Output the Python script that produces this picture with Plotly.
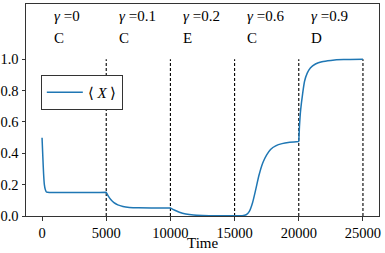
import plotly.graph_objects as go

time = [0, 60, 120, 180, 250, 330, 420, 600, 1000, 2000, 3000, 4000, 4999,
        5000, 5150, 5350, 5600, 5900, 6300, 6800, 7500, 8500, 9999,
        10000, 10300, 10700, 11200, 11800, 12500, 13500, 14999,
        15000, 15600, 15900, 16150, 16400, 16650, 16900, 17200, 17500, 17800, 18200, 18700, 19300, 19999,
        20000, 20060, 20150, 20300, 20450, 20650, 20900, 21300, 21800, 22500, 23500, 25000]
x_mean = [0.50, 0.38, 0.27, 0.20, 0.17, 0.155, 0.151, 0.150, 0.150, 0.150, 0.150, 0.150, 0.151,
          0.151, 0.128, 0.105, 0.085, 0.071, 0.061, 0.055, 0.052, 0.051, 0.051,
          0.051, 0.038, 0.024, 0.013, 0.006, 0.003, 0.001, 0.001,
          0.001, 0.002, 0.008, 0.030, 0.085, 0.17, 0.26, 0.34, 0.39, 0.425, 0.448, 0.462, 0.470, 0.476,
          0.476, 0.58, 0.68, 0.78, 0.86, 0.91, 0.945, 0.97, 0.985, 0.993, 0.998, 1.0]

boundaries = [5000, 10000, 15000, 20000, 25000]
seg_starts = [0, 5000, 10000, 15000, 20000]
gammas = ["0", "0.1", "0.2", "0.6", "0.9"]
phases = ["C", "C", "E", "C", "D"]
x_ticks = [0, 5000, 10000, 15000, 20000, 25000]
x_ticklabels = ["0", "5000", "10000", "15000", "20000", "25000"]
y_ticks = [0, 0.2, 0.4, 0.6, 0.8, 1.0]
y_ticklabels = ["0.0", "0.2", "0.4", "0.6", "0.8", "1.0"]

FONT = "Liberation Serif"

fig = go.Figure()
for b in boundaries:
    fig.add_trace(go.Scatter(x=[b, b], y=[0, 1], mode="lines",
                             line=dict(color="black", width=1.1, dash="3px,2px"),
                             showlegend=False, hoverinfo="skip"))
fig.add_trace(go.Scatter(x=time, y=x_mean, mode="lines", name="⟨ <i>X</i> ⟩",
                         line=dict(color="#1f77b4", width=1.5, shape="spline", smoothing=0.6)))

for s, g, p in zip(seg_starts, gammas, phases):
    fig.add_annotation(x=s + 800, y=1.279, text="<i>γ</i> =" + g, showarrow=False,
                       xanchor="left", yanchor="middle", font=dict(family=FONT, size=15, color="black"))
    fig.add_annotation(x=s + 800, y=1.135, text=p, showarrow=False,
                       xanchor="left", yanchor="middle", font=dict(family=FONT, size=15, color="black"))

fig.add_annotation(x=0.5, xref="paper", y=-0.127, yref="paper", text="Time", showarrow=False,
                   xanchor="center", yanchor="middle", font=dict(family=FONT, size=15, color="black"))

axis_common = dict(showline=True, linecolor="#333333", linewidth=1, mirror=True,
                   ticks="outside", ticklen=3.5, tickwidth=0.8, tickcolor="#333333",
                   showgrid=False, zeroline=False, automargin=False,
                   tickfont=dict(family=FONT, size=14.5, color="black"))
fig.update_layout(
    width=385, height=253,
    margin=dict(l=26, r=6, t=4, b=37),
    paper_bgcolor="white", plot_bgcolor="white",
    xaxis=dict(range=[-1250, 26250], tickvals=x_ticks, ticktext=x_ticklabels, **axis_common),
    yaxis=dict(range=[0, 1.353], tickvals=y_ticks, ticktext=y_ticklabels, **axis_common),
    legend=dict(x=0.042, y=0.665, xanchor="left", yanchor="top",
                bordercolor="#333333", borderwidth=1, bgcolor="white",
                font=dict(family=FONT, size=15, color="black"),
                itemwidth=36),
    showlegend=True,
)
fig.write_html("out.html", config={"displayModeBar": False},
               post_script="document.body.style.margin='0';document.body.style.padding='0';document.body.style.overflow='hidden';")
